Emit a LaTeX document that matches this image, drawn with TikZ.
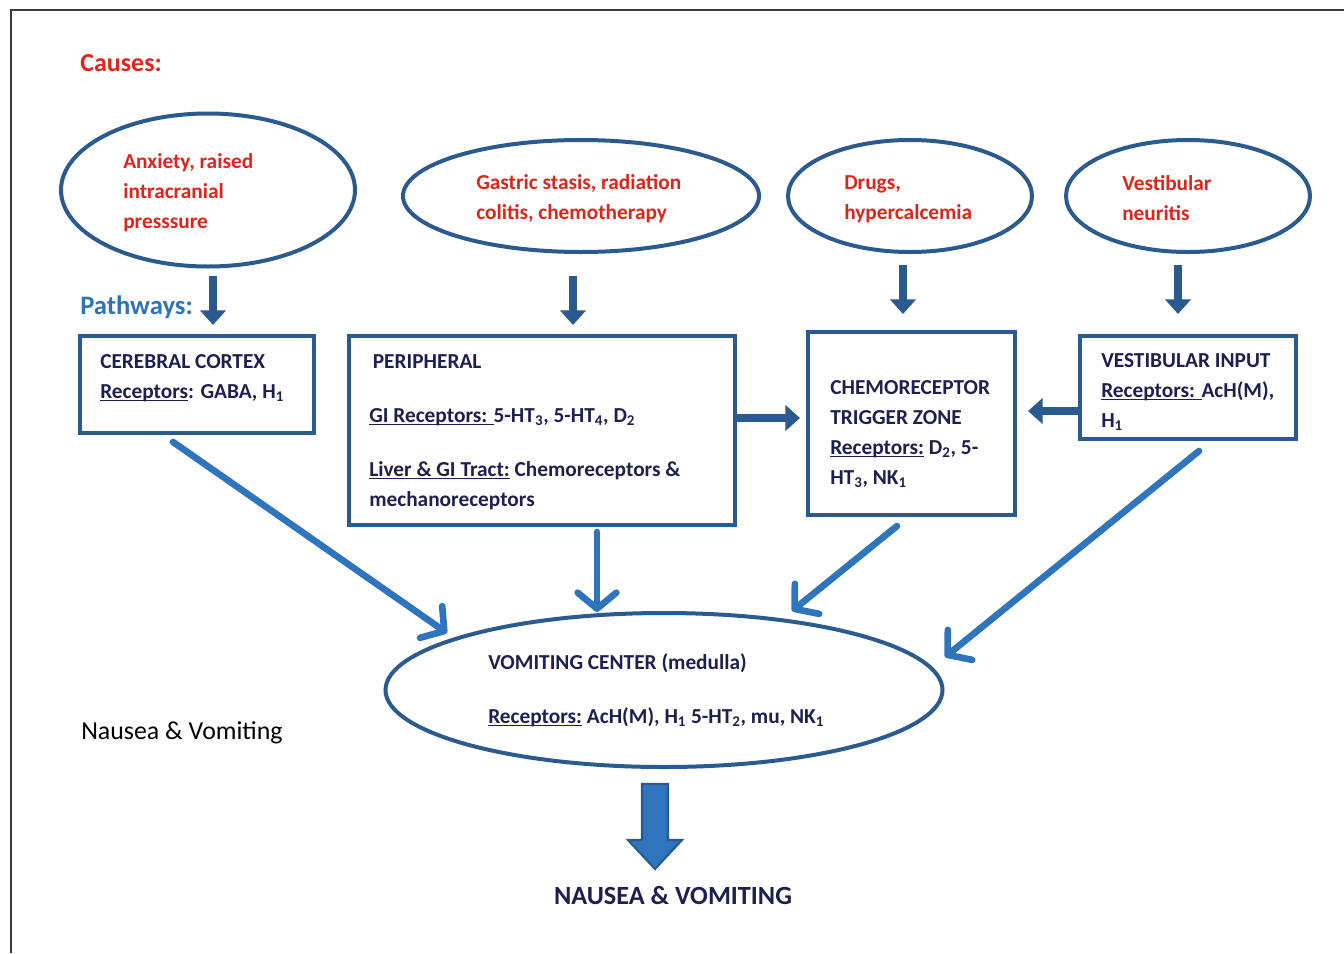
\documentclass[tikz,border=0pt]{standalone}
\usepackage{fontspec}
\setmainfont{Carlito}
\usepackage{xcolor}
\definecolor{framegray}{HTML}{3A3A3A}
\definecolor{ovalblue}{HTML}{2B5A8E}
\definecolor{flowblue}{HTML}{2E75BE}
\definecolor{causered}{HTML}{E2231A}
\definecolor{headblue}{HTML}{2E74B5}
\definecolor{textnavy}{HTML}{1F1F4F}
\usetikzlibrary{arrows.meta, positioning, shapes.geometric, fit}

% underline as in the source
\newcommand{\recul}[1]{\leavevmode\setbox0=\hbox{#1}\rlap{\rule[-2.2pt]{\wd0}{1.2pt}}\box0\relax}

\tikzset{
    oval/.style={ellipse, draw=ovalblue, line width=3pt, inner sep=0pt},
    box/.style={rectangle, draw=ovalblue, line width=3.5pt, inner sep=0pt},
    cause/.style={font=\fontsize{16}{22.5}\selectfont\bfseries, text=causered, align=left, anchor=west, inner sep=0pt},
    info/.style={font=\fontsize{16}{22.5}\selectfont\bfseries, text=textnavy, align=left, anchor=west, inner sep=0pt},
    feed/.style={draw=ovalblue, line width=5.5pt, -{Triangle[length=11pt, width=19pt]}},
    route/.style={draw=flowblue, line width=5pt, line cap=round, -{Straight Barb[length=12pt, width=29pt, round]}},
}

\begin{document}
\begin{tikzpicture}[x=0.75pt, y=-0.75pt]
    \def\pxu{0.75pt}
    \useasboundingbox (0,0) rectangle (1344,953);
    % Frame
    \draw[framegray, line width=0.9pt] (11,953) -- (11,10) -- (1344,10);

    % Headings
    \node[font=\fontsize{19.5}{22}\selectfont\bfseries, text=causered, anchor=west, inner sep=0pt] (causes) at (80,63) {Causes:};
    \node[font=\fontsize{20}{22}\selectfont\bfseries, text=headblue, anchor=west, inner sep=0pt] (pathways) at (80,307) {Pathways:};
    \node[font=\fontsize{19.4}{22}\selectfont, anchor=west, inner sep=0pt] (nvside) at (81,733) {Nausea \& Vomiting};

    % Causes
    \node[oval, minimum width=294*\pxu, minimum height=153*\pxu] (anx) at (208,190) {};
    \node[oval, minimum width=356*\pxu, minimum height=112*\pxu] (gas) at (581,196) {};
    \node[oval, minimum width=244*\pxu, minimum height=112*\pxu] (drug) at (910,196) {};
    \node[oval, minimum width=244*\pxu, minimum height=112*\pxu] (vneu) at (1188,196) {};
    \node[cause] (anxtxt) at (123,193) {Anxiety, raised\\intracranial\\presssure};
    \node[cause] (gastxt) at (476,199) {Gastric stasis, radiation\\colitis, chemotherapy};
    \node[cause] (drugtxt) at (844,199) {Drugs,\\hypercalcemia};
    \node[cause] (vneutxt) at (1122,198) {Vestibular\\neuritis};

    % Pathways
    \node[box, fit={(80,336) (314,433)}] (cortex) {};
    \node[box, fit={(349,336) (735,525)}] (periph) {};
    \node[box, fit={(808,332) (1015,515)}] (ctz) {};
    \node[box, fit={(1080,336) (1296,439)}] (vest) {};
    \node[info] (cortextxt) at (100,378) {CEREBRAL CORTEX\\\recul{Receptors}: GABA, H\textsubscript{1}};
    \node[info] (periphtxt) at (369,432) {\,PERIPHERAL\\[18pt]\recul{GI Receptors: }5-HT\textsubscript{3}, 5-HT\textsubscript{4}, D\textsubscript{2}\\[18pt]\recul{Liver \& GI Tract:} Chemoreceptors \&\\mechanoreceptors};
    \node[info] (ctztxt) at (830,434) {CHEMORECEPTOR\\TRIGGER ZONE\\\recul{Receptors:} D\textsubscript{2}, 5-\\HT\textsubscript{3}, NK\textsubscript{1}};
    \node[info] (vesttxt) at (1101,392) {VESTIBULAR INPUT\\\recul{Receptors: }AcH(M),\\H\textsubscript{1}};

    % Vomiting center
    \node[oval, minimum width=557*\pxu, minimum height=154*\pxu] (vc) at (664,690) {};
    \node[info] (vctxt) at (488,690) {VOMITING CENTER (medulla)\\[18pt]\recul{Receptors:} AcH(M), H\textsubscript{1} 5-HT\textsubscript{2}, mu, NK\textsubscript{1}};

    % Short arrows
    \coordinate (f1a) at (213,276); \coordinate (f1b) at (213,325);
    \coordinate (f2a) at (573,276); \coordinate (f2b) at (573,325);
    \coordinate (f3a) at (903,265); \coordinate (f3b) at (903,314);
    \coordinate (f4a) at (1178,265); \coordinate (f4b) at (1178,314);
    \coordinate (pr) at (735,418); \coordinate (ctzl) at (800,418);
    \coordinate (vl) at (1080,411); \coordinate (ctzr) at (1028,411);
    \foreach \s/\t in {f1a/f1b, f2a/f2b, f3a/f3b, f4a/f4b, pr/ctzl, vl/ctzr} {
        \draw[feed] (\s) -- (\t);
    }

    % Long arrows to vomiting center
    \coordinate (r1a) at (173,442); \coordinate (r1b) at (447,633);
    \coordinate (r2a) at (597,532); \coordinate (r2b) at (597,612);
    \coordinate (r3a) at (897,526); \coordinate (r3b) at (792,611);
    \coordinate (r4a) at (1199,451); \coordinate (r4b) at (945,657);
    \foreach \s/\t in {r1a/r1b, r2a/r2b, r3a/r3b, r4a/r4b} {
        \draw[route] (\s) -- (\t);
    }

    % Outcome
    \draw[draw=ovalblue, fill=flowblue, line width=1.6pt, line join=miter]
        (642,784) -- (668,784) -- (668,840) -- (682,840) -- (655,869) -- (628,840) -- (642,840) -- cycle;
    \node[font=\fontsize{19.7}{22}\selectfont\bfseries, text=textnavy, inner sep=0pt] (nvout) at (673,896) {NAUSEA \& VOMITING};
\end{tikzpicture}
\end{document}
